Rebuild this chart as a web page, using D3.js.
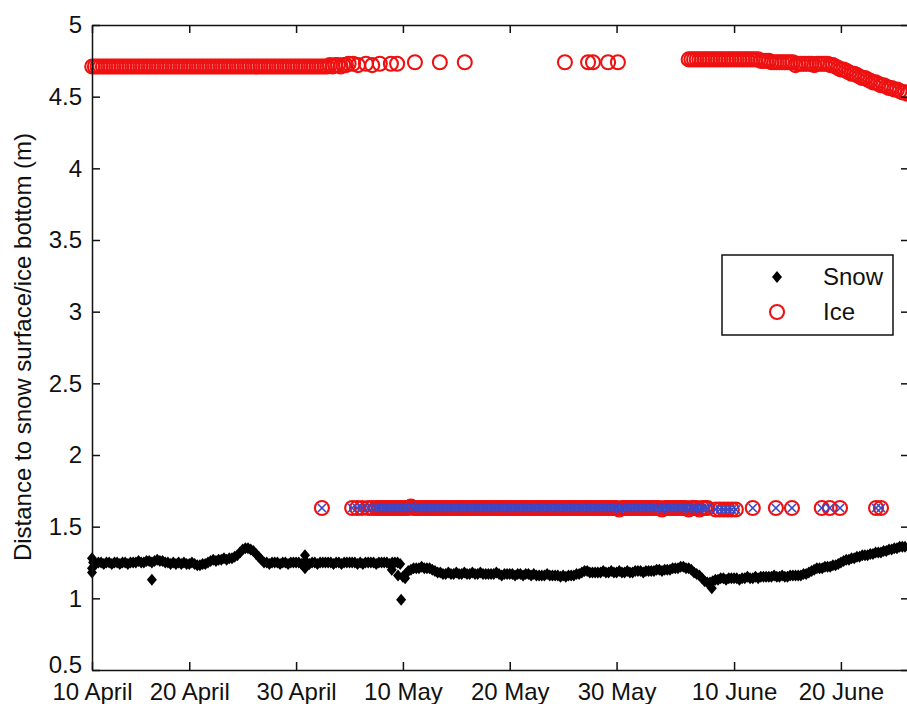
<!DOCTYPE html>
<html>
<head>
<meta charset="utf-8">
<script src="https://cdn.jsdelivr.net/npm/d3@7"></script>
<style>
body { margin: 0; background: #fff; }
svg { font-family: "Liberation Sans", Arial, sans-serif; }
</style>
</head>
<body>
<script>
var xTickDates = ["2010-04-10T21:30Z","2010-04-20","2010-04-30","2010-05-10","2010-05-20","2010-05-30","2010-06-10","2010-06-20"];
var xTickLabels = ["10 April","20 April","30 April","10 May","20 May","30 May","10 June","20 June"];
var yTicks = [0.5,1,1.5,2,2.5,3,3.5,4,4.5,5];
var legendLabels = ["Snow","Ice"];

// snow surface, one reading every 6 h (two days per line)
var snowStart = "2010-04-11T00:00Z";
var snowStepHours = 6;
var snowDepth = [
  1.25,1.24,1.25,1.25, 1.24,1.25,1.25,1.24,   // Apr 11-12
  1.25,1.25,1.24,1.25, 1.25,1.24,1.25,1.25,
  1.25,1.26,1.25,1.25, 1.26,1.26,1.25,1.26,
  1.27,1.26,1.26,1.25, 1.25,1.24,1.25,1.24,
  1.25,1.24,1.25,1.24, 1.24,1.25,1.24,1.23,
  1.23,1.24,1.24,1.25, 1.26,1.27,1.26,1.27,
  1.27,1.28,1.27,1.28, 1.28,1.29,1.30,1.32,
  1.34,1.35,1.35,1.34, 1.33,1.31,1.29,1.27,
  1.25,1.25,1.24,1.25, 1.25,1.25,1.24,1.25,
  1.25,1.24,1.25,1.25, 1.25,1.25,1.24,1.25,   // Apr 29-30
  1.25,1.24,1.25,1.25, 1.24,1.25,1.25,1.25,   // May 1-2
  1.25,1.25,1.24,1.25, 1.25,1.24,1.25,1.25,
  1.25,1.25,1.25,1.24, 1.25,1.24,1.25,1.25,
  1.25,1.25,1.24,1.25, 1.25,1.25,1.25,1.24,
  1.25,1.25,1.25,1.24, 1.15,1.17,1.19,1.20,   // May 9-10
  1.21,1.21,1.21,1.22, 1.21,1.21,1.21,1.20,
  1.19,1.18,1.18,1.17, 1.17,1.18,1.17,1.17,
  1.18,1.17,1.17,1.18, 1.17,1.17,1.18,1.17,
  1.17,1.18,1.17,1.17, 1.17,1.17,1.17,1.18,
  1.17,1.16,1.17,1.17, 1.17,1.17,1.16,1.17,
  1.17,1.16,1.17,1.17, 1.16,1.17,1.16,1.16,
  1.16,1.16,1.17,1.16, 1.16,1.16,1.16,1.15,
  1.16,1.15,1.16,1.16, 1.16,1.17,1.17,1.18,
  1.19,1.19,1.18,1.18, 1.18,1.18,1.18,1.19,
  1.18,1.18,1.19,1.18, 1.18,1.19,1.18,1.18,   // May 29-30
  1.19,1.18,1.18,1.19, 1.19,1.19,1.18,1.19,   // May 31-Jun 1
  1.19,1.19,1.19,1.20, 1.20,1.19,1.20,1.20,
  1.20,1.21,1.21,1.21, 1.22,1.22,1.21,1.21,
  1.20,1.18,1.17,1.16, 1.14,1.12,1.11,1.11,   // Jun 6-7
  1.12,1.13,1.13,1.14, 1.14,1.13,1.14,1.14,
  1.14,1.14,1.13,1.14, 1.14,1.15,1.14,1.14,
  1.15,1.14,1.15,1.15, 1.15,1.15,1.15,1.16,
  1.15,1.15,1.16,1.15, 1.15,1.16,1.16,1.16,
  1.16,1.16,1.17,1.17, 1.18,1.19,1.20,1.21,
  1.21,1.21,1.22,1.22, 1.22,1.23,1.23,1.24,
  1.25,1.26,1.27,1.27, 1.28,1.28,1.29,1.29,   // Jun 20-21
  1.30,1.30,1.30,1.31, 1.31,1.32,1.32,1.32,
  1.33,1.33,1.34,1.34, 1.35,1.35,1.36,1.36,
  1.36                                        // Jun 26
];
var snowExtraTimes = ["2010-04-10T21:30Z","2010-04-10T21:30Z","2010-04-10T21:30Z","2010-04-16T12:00Z","2010-04-30T20:00Z","2010-04-30T20:00Z","2010-05-08T23:00Z","2010-05-09T13:00Z","2010-05-09T20:00Z","2010-05-10T05:00Z","2010-06-07T22:00Z"];
var snowExtraDepth = [1.28,1.18,1.21,1.13,1.30,1.21,1.20,1.16,0.99,1.14,1.07];

// ice bottom (upper band), one reading every 6 h
var iceStepHours = 6;
var iceTopStart1 = "2010-04-10T22:00Z";
var iceTopDepth1 = [
  4.71,4.71,4.71,4.71,4.71,4.71,4.71,4.71,
  4.71,4.71,4.71,4.71,4.71,4.71,4.71,4.71,
  4.71,4.71,4.71,4.71,4.71,4.71,4.71,4.71,
  4.71,4.71,4.71,4.71,4.71,4.71,4.71,4.71,
  4.71,4.71,4.71,4.71,4.71,4.71,4.71,4.71,
  4.71,4.71,4.71,4.71,4.71,4.71,4.71,4.71,
  4.71,4.71,4.71,4.71,4.71,4.71,4.71,4.71,
  4.71,4.71,4.71,4.71,4.71,4.71,4.71,4.71,
  4.71,4.71,4.71,4.71,4.71,4.71,4.71,4.71,
  4.71,4.71,4.71,4.71,4.71,4.71,4.71,4.71,
  4.71,4.71,4.71,4.71,4.71,4.71,4.71,4.71,
  4.71,4.72,4.71,4.72,4.72,4.71,4.72,4.72,
  4.73
];
var iceTopStart2 = "2010-06-05T18:00Z";
var iceTopDepth2 = [
  4.76,4.76,4.76,4.76,4.76,4.76,4.76,4.76,4.76,4.76,
  4.76,4.76,4.76,4.76,4.76,4.76,4.76,4.76,4.76,4.76,
  4.76,4.76,4.76,4.76,4.76,4.76,4.76,
  4.75,4.75,4.75,4.75,
  4.74,4.74,4.74,4.74,4.74,4.74,4.74,4.74,4.74,4.72,
  4.73,4.73,4.73,4.73,4.73,4.73,4.72,4.73,4.73,4.73,4.73,4.73,
  4.72,4.72,4.71,4.70,4.69,4.69,4.68,4.67,4.66,4.66,
  4.65,4.64,4.63,4.63,4.62,4.61,4.60,4.60,4.59,4.58,
  4.58,4.57,4.56,4.56,4.55,4.55,4.54,4.53,4.53,4.52
];
var iceTopExtraTimes = ["2010-05-05T08:00Z","2010-05-05T19:00Z","2010-05-06T13:00Z","2010-05-07T03:00Z","2010-05-07T20:00Z","2010-05-08T21:00Z","2010-05-09T11:00Z","2010-05-11T03:00Z","2010-05-13T11:00Z","2010-05-15T19:00Z","2010-05-25T04:00Z","2010-05-27T08:00Z","2010-05-27T19:00Z","2010-05-29T05:00Z","2010-05-30T03:00Z"];
var iceTopExtraDepth = [4.73,4.72,4.73,4.72,4.73,4.73,4.73,4.74,4.74,4.74,4.74,4.74,4.74,4.74,4.74];

// lower band (circles with crosses)
var iceBottomStart = "2010-05-07T12:00Z";
var iceBottomDepth = [
  1.63,1.63,1.63,1.63,1.63,1.63,1.63,1.63,1.63,1.63,
  1.63,1.63,1.63,1.64,1.63,1.63,1.63,1.63,1.63,1.63,
  1.63,1.63,1.63,1.63,1.63,1.63,1.63,1.63,1.63,1.63,
  1.63,1.63,1.63,1.63,1.63,1.63,1.63,1.63,1.63,1.63,
  1.63,1.63,1.63,1.63,1.63,1.63,1.63,1.63,1.63,1.63,
  1.63,1.63,1.63,1.63,1.63,1.63,1.63,1.63,1.63,1.63,
  1.63,1.63,1.63,1.63,1.63,1.63,1.63,1.63,1.63,1.63,
  1.63,1.63,1.63,1.63,1.63,1.63,1.63,1.63,1.63,1.63,
  1.63,1.63,1.63,1.63,1.63,1.63,1.63,1.63,1.63,1.63,
  1.63,1.62,1.63,1.63,1.63,1.63,1.63,1.63,1.63,1.63,
  1.63,1.63,1.63,1.63,1.63,1.63,1.63,1.62,1.63,1.63,
  1.63,1.63,1.63,1.63,1.63,1.63,1.63,1.62,1.63,1.63,
  1.63,1.62,1.63,1.63,1.63
];
var iceBottomExtraTimes = ["2010-05-02T10:00Z","2010-05-05T06:00Z","2010-05-05T17:00Z","2010-05-06T04:00Z","2010-05-06T18:00Z","2010-05-07T03:00Z","2010-06-08T07:00Z","2010-06-08T16:00Z","2010-06-09T01:00Z","2010-06-09T10:00Z","2010-06-09T19:00Z","2010-06-10T04:00Z","2010-06-11T18:00Z","2010-06-13T22:00Z","2010-06-15T10:00Z","2010-06-18T05:00Z","2010-06-18T23:00Z","2010-06-19T22:00Z","2010-06-23T07:00Z","2010-06-23T18:00Z"];
var iceBottomExtraDepth = [1.63,1.63,1.63,1.63,1.63,1.63,1.62,1.62,1.62,1.62,1.62,1.62,1.63,1.63,1.63,1.63,1.63,1.63,1.63,1.63];

var xScale = d3.scaleUtc()
    .domain([new Date("2010-04-10T21:30Z"), new Date("2010-06-26T09:00Z")])
    .range([92, 909]);

var yScale = d3.scaleLinear().domain([0.5, 5]).range([670, 25]);

var red = "#ee1111", blue = "#3a48c8", ink = "#111";
var diamond = "M0,-6L5,0L0,6L-5,0Z";
var cross = "M-4,-4L4,4M-4,4L4,-4";

var regular = function(start, stepHours, values){
    var t0 = new Date(start).getTime();
    return values.map(function(v, i){ return {t: new Date(t0 + i*stepHours*3600e3), v: v}; });
}
var paired = function(times, values){
    return times.map(function(s, i){ return {t: new Date(s), v: values[i]}; });
}
var inside = function(d){ return d.t <= xScale.domain()[1]; }

var snowPoints = regular(snowStart, snowStepHours, snowDepth).concat(paired(snowExtraTimes, snowExtraDepth)).filter(inside);
var iceTopPoints = regular(iceTopStart1, iceStepHours, iceTopDepth1)
    .concat(paired(iceTopExtraTimes, iceTopExtraDepth))
    .concat(regular(iceTopStart2, iceStepHours, iceTopDepth2)).filter(inside);
var iceBottomPoints = regular(iceBottomStart, iceStepHours, iceBottomDepth).concat(paired(iceBottomExtraTimes, iceBottomExtraDepth)).filter(inside);

var pos = function(d){ return "translate(" + xScale(d.t) + "," + yScale(d.v) + ")"; }

var loadAxis = function(svg){
    var xDates = xTickDates.map(function(s){ return new Date(s); });

    var xAxis = svg.append("g").attr("transform", "translate(0,670)")
        .call(d3.axisBottom(xScale).tickValues(xDates)
            .tickFormat(function(d, i){ return xTickLabels[i]; })
            .tickSizeInner(-8).tickSizeOuter(0).tickPadding(12.5));
    svg.append("g").attr("transform", "translate(0,25)")
        .call(d3.axisTop(xScale).tickValues(xDates).tickFormat("")
            .tickSizeInner(-8).tickSizeOuter(0));
    var yAxis = svg.append("g").attr("transform", "translate(92,0)")
        .call(d3.axisLeft(yScale).tickValues(yTicks)
            .tickFormat(function(d){ return String(d); })
            .tickSizeInner(-8).tickSizeOuter(0).tickPadding(10));
    svg.append("g").attr("transform", "translate(909,0)")
        .call(d3.axisRight(yScale).tickValues(yTicks).tickFormat("")
            .tickSizeInner(-8).tickSizeOuter(0));

    svg.selectAll(".domain, .tick line").attr("stroke", ink).attr("stroke-width", 1.5);
    svg.selectAll(".tick text").attr("fill", ink);
    svg.selectAll("g").attr("font-family", null).attr("font-size", 24);
    xAxis.attr("font-size", 23);
    // lowest label sits just above the first date label
    yAxis.selectAll(".tick text").filter(function(d){ return d === 0.5; }).attr("y", -5);

    svg.append("text")
        .attr("transform", "translate(31,347) rotate(-90)")
        .attr("text-anchor", "middle")
        .attr("font-size", 24)
        .attr("fill", ink)
        .text("Distance to snow surface/ice bottom (m)");
}

var loadSnow = function(svg){
    svg.append("g").selectAll("path").data(snowPoints).join("path")
        .attr("transform", pos)
        .attr("d", diamond)
        .attr("fill", "#000");
}

var loadIce = function(svg){
    svg.append("g").selectAll("circle").data(iceTopPoints.concat(iceBottomPoints)).join("circle")
        .attr("transform", pos)
        .attr("r", 7)
        .attr("fill", "none")
        .attr("stroke", red)
        .attr("stroke-width", 2.1);
    svg.append("g").selectAll("path").data(iceBottomPoints).join("path")
        .attr("transform", pos)
        .attr("d", cross)
        .attr("fill", "none")
        .attr("stroke", blue)
        .attr("stroke-width", 1.6);
}

var loadLegend = function(svg){
    var g = svg.append("g");
    g.append("rect").attr("x", 722).attr("y", 255).attr("width", 171).attr("height", 80)
        .attr("fill", "#fff").attr("stroke", ink).attr("stroke-width", 1.5);
    g.append("path").attr("transform", "translate(777,277)").attr("d", diamond).attr("fill", "#000");
    g.append("circle").attr("cx", 777).attr("cy", 312).attr("r", 7)
        .attr("fill", "none").attr("stroke", red).attr("stroke-width", 2.1);
    g.selectAll("text").data(legendLabels).join("text")
        .attr("x", 823)
        .attr("y", function(d, i){ return 285 + i*35; })
        .attr("font-size", 24)
        .attr("fill", ink)
        .text(function(d){ return d; });
}

var loadGraph = function(){
    var svg = d3.select("body").append("svg")
        .attr("width", 907)
        .attr("height", 704);
    loadSnow(svg);
    loadIce(svg);
    loadAxis(svg);
    loadLegend(svg);
}

window.onload = loadGraph;
</script>
</body>
</html>
